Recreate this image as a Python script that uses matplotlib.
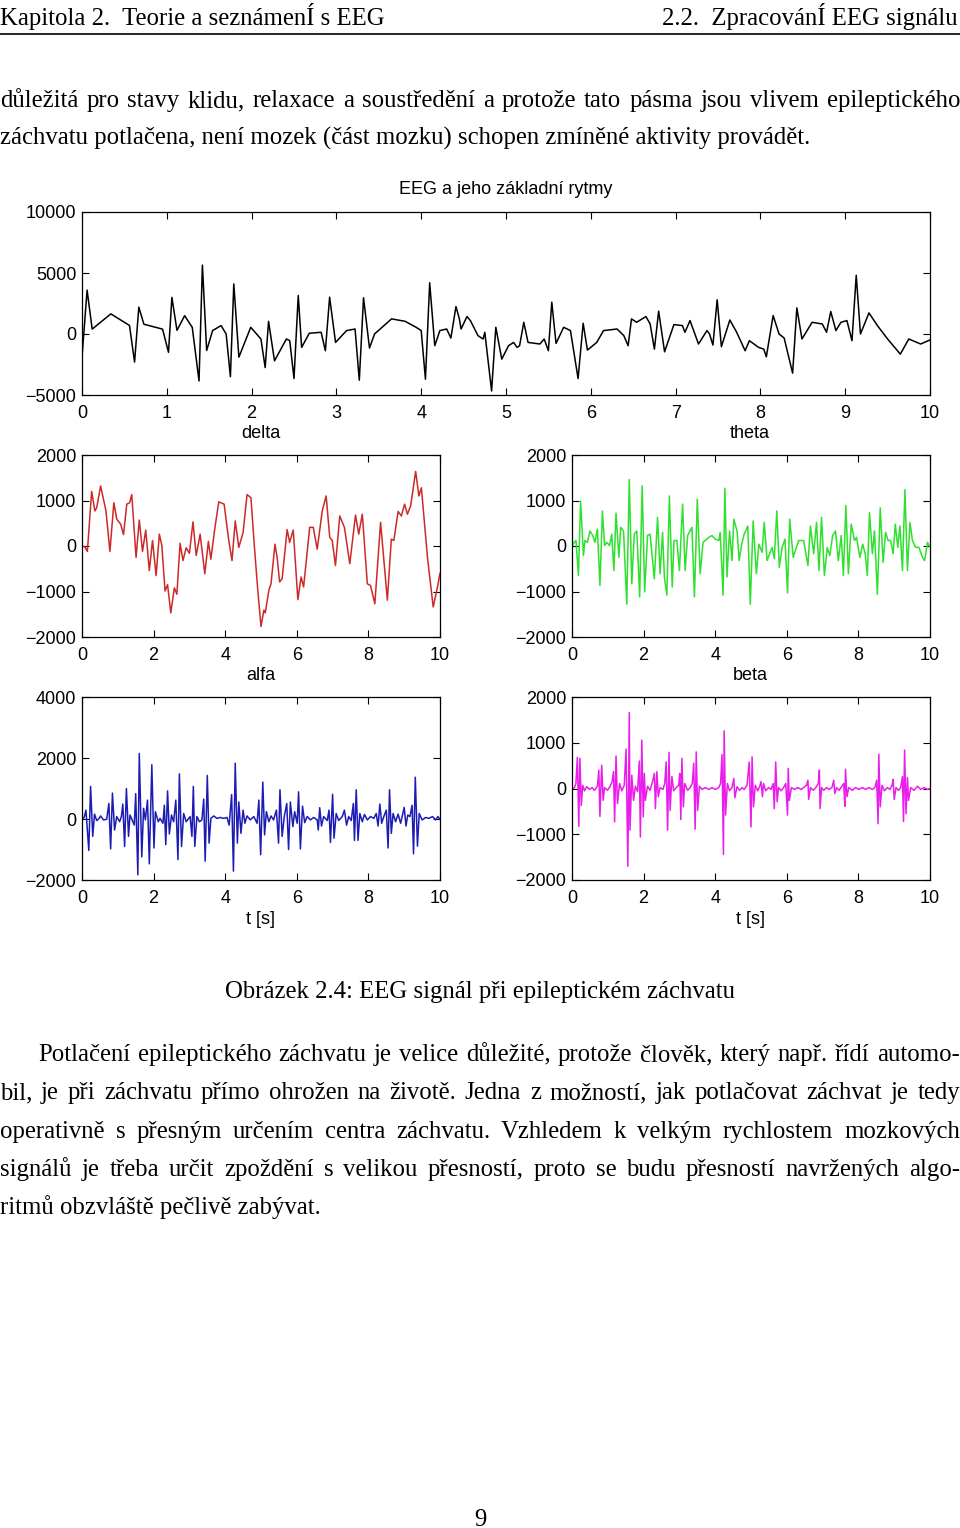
import matplotlib
matplotlib.use('Agg')
import matplotlib.pyplot as plt
from matplotlib.lines import Line2D

# ---------------- data ----------------
main_t = [0.00,0.06,0.12,0.34,0.56,0.62,0.67,0.73,0.95,1.02,
          1.06,1.12,1.21,1.30,1.38,1.42,1.47,1.54,1.64,1.70,
          1.75,1.79,1.85,1.99,2.11,2.16,2.20,2.27,2.41,2.45,
          2.50,2.55,2.59,2.68,2.82,2.87,2.92,2.99,3.12,3.22,
          3.27,3.32,3.39,3.45,3.65,3.81,3.94,4.00,4.05,4.10,
          4.16,4.22,4.30,4.35,4.41,4.45,4.47,4.54,4.58,4.67,
          4.73,4.75,4.83,4.88,4.95,5.03,
          5.09,5.13,5.16,5.21,5.26,5.40,5.45,5.50,5.54,5.59,
          5.68,5.76,5.85,5.91,5.96,6.07,6.15,6.31,6.39,6.44,
          6.48,6.54,6.65,6.70,6.75,6.80,6.87,6.98,7.08,7.11,
          7.17,7.27,7.37,7.40,7.44,7.49,7.54,7.64,7.72,7.82,
          7.87,7.98,8.04,8.07,8.15,8.22,8.28,8.38,8.43,8.49,
          8.61,8.73,8.78,8.83,8.89,8.95,9.02,9.08,9.13,9.18,
          9.28,9.38,9.50,9.65,9.75,9.89,10.00]
main_v = [-1900,3600,400,1650,700,-2300,2200,800,400,-1500,
          3000,300,1500,550,-3850,5650,-1350,280,690,0,
          -3500,4100,-1900,550,-410,-2750,1040,-2200,-410,-550,
          -3650,3160,-1100,60,140,-1370,3020,-690,280,410,
          -3790,2970,-1150,0,1240,1040,550,280,-3710,4200,
          -960,280,410,-330,2250,1240,410,1430,1100,-140,
          -410,140,-4670,550,-2060,-960,
          -690,-1100,-960,960,-690,-820,-410,-1370,2610,-770,
          550,280,-3650,880,-1320,-690,280,410,-140,-960,
          1240,960,1430,820,-1240,1870,-1460,770,690,140,
          1100,-820,280,0,-910,2800,-1040,1150,140,-1370,
          -550,-1100,-1240,-1870,1510,0,-330,-3210,2140,-410,
          960,820,140,1840,280,960,1100,-550,4810,0,
          1730,690,-410,-1650,-410,-820,-490]

delta_t = [0.00,0.08,0.15,0.27,0.36,0.41,0.52,0.67,0.78,0.89,
           0.97,1.08,1.16,1.25,1.33,1.39,1.51,1.60,1.69,1.78,
           1.88,1.97,2.07,2.16,2.23,2.32,2.39,2.48,2.58,2.65,
           2.74,2.82,2.91,3.00,3.10,3.19,3.30,3.43,3.53,3.60,
           3.70,3.82,3.97,4.10,4.19,4.28,4.38,4.50,4.61,4.72,
           4.81,4.91,5.00,5.08,5.12,5.22,5.28,5.39,5.45,5.52,
           5.59,5.73,5.80,5.90,6.03,6.12,6.19,6.36,6.46,6.57,
           6.71,6.82,6.92,6.99,7.08,7.20,7.33,7.48,7.64,7.73,
           7.83,7.97,8.06,8.18,8.34,8.53,8.64,8.71,8.83,8.92,
           9.01,9.09,9.18,9.32,9.41,9.48,9.65,9.81,9.93,10.00]
delta_v = [0,-20,-120,1200,770,840,1320,770,-120,950,
           590,480,250,920,950,1130,-250,570,-120,350,
           -540,120,-650,260,10,-990,-850,-1470,-920,-1060,
           60,-320,-40,-160,530,-210,260,-610,100,-290,
           330,970,920,120,-320,550,-30,300,1130,1060,
           40,-970,-1770,-1410,-1470,-970,-830,40,-250,-790,
           -720,360,80,350,-1180,-680,-900,410,410,-70,
           770,1100,190,120,-430,660,410,-390,680,260,
           700,-830,-870,-1270,520,-1190,150,120,760,660,
           920,700,880,1640,1100,1280,-250,-1340,-900,-600]

theta_t = [0.00,0.06,0.11,0.18,0.24,0.32,0.36,0.43,0.50,0.58,
           0.64,0.71,0.78,0.85,0.91,0.97,1.05,1.11,1.17,1.23,
           1.31,1.36,1.44,1.53,1.60,1.67,1.74,1.81,1.89,1.96,
           2.03,2.11,2.18,2.30,2.39,2.46,2.53,2.58,2.65,2.72,
           2.80,2.85,2.93,3.00,3.09,3.16,3.23,3.35,3.42,3.50,
           3.58,3.66,3.72,3.82,3.91,4.00,4.10,4.14,4.22,4.27,
           4.33,4.40,4.47,4.52,4.61,4.67,4.74,4.81,4.91,4.98,
           5.06,5.15,5.22,5.31,5.37,5.45,5.52,5.59,5.65,5.72,
           5.79,5.87,5.95,6.02,6.08,6.18,6.25,6.33,6.47,6.59,
           6.66,6.75,6.83,6.90,6.97,7.05,7.13,7.20,7.28,7.36,
           7.44,7.52,7.58,7.65,7.72,7.80,7.89,7.95,8.04,8.12,
           8.19,8.25,8.31,8.39,8.45,8.53,8.61,8.69,8.76,8.83,
           8.90,8.97,9.03,9.10,9.16,9.23,9.30,9.37,9.44,9.51,
           9.60,9.69,9.79,9.85,9.93,10.00]
theta_v = [0,80,120,-650,990,-210,120,80,330,230,
           80,370,-870,770,10,80,10,260,-540,720,
           -250,410,330,-1280,1460,-830,260,330,-1120,1320,
           -1010,230,260,-720,630,-610,300,-680,-1080,1100,
           -900,120,120,-540,920,-540,230,410,-1120,1030,
           -610,80,120,190,230,150,120,300,-1080,1270,
           -680,330,-320,590,330,-320,40,260,440,-1280,
           550,-610,40,-140,520,-320,-170,-30,-280,770,
           -470,-30,150,-1030,590,-250,-70,120,120,-430,
           440,-170,520,-540,630,-650,-30,-210,230,330,
           -320,230,-650,890,-610,480,120,190,-250,40,
           -170,-650,730,-170,330,-1060,840,-360,300,120,
           120,-170,480,-30,440,-540,1240,-540,520,120,
           -30,-30,-250,-320,80,-30]

alfa_t = [0.00,0.06,0.11,0.19,0.24,0.30,0.35,0.41,0.48,0.52,
          0.60,0.69,0.75,0.80,0.85,0.91,0.97,1.05,1.10,1.14,
          1.19,1.24,1.30,1.34,1.40,1.46,1.50,1.56,1.60,1.67,
          1.72,1.77,1.83,1.88,1.95,2.01,2.05,2.13,2.18,2.26,
          2.30,2.34,2.39,2.44,2.50,2.56,2.62,2.68,2.72,2.78,
          2.84,2.91,2.98,3.02,3.07,3.11,3.15,3.21,3.28,3.35,
          3.40,3.44,3.50,3.55,3.60,3.68,3.77,3.86,3.96,4.05,
          4.11,4.18,4.23,4.28,4.34,4.38,4.44,4.50,4.55,4.61,
          4.70,4.80,4.89,4.94,4.99,5.05,5.10,5.15,5.22,5.28,
          5.35,5.43,5.49,5.53,5.59,5.65,5.72,5.77,5.82,5.89,
          5.94,6.01,6.05,6.10,6.16,6.22,6.29,6.38,6.47,6.57,
          6.60,6.64,6.69,6.75,6.85,6.90,6.94,7.00,7.04,7.10,
          7.17,7.27,7.33,7.39,7.45,7.52,7.58,7.61,7.66,7.71,
          7.76,7.83,7.89,7.97,8.06,8.15,8.22,8.27,8.32,8.37,
          8.43,8.50,8.55,8.59,8.64,8.69,8.76,8.83,8.90,8.96,
          9.00,9.05,9.10,9.16,9.22,9.26,9.31,9.37,9.42,9.50,
          9.60,9.69,9.79,9.88,9.94,10.00]
alfa_v = [0,50,290,-1030,1070,-570,160,-50,20,100,
          -30,-10,510,-980,850,-360,80,-90,80,490,
          -900,1000,-570,130,-30,-200,830,-1830,2150,-1240,
          350,-30,620,-1470,1780,-950,240,-90,20,-140,
          450,-840,920,-490,130,-90,620,-1330,1480,-900,
          180,-90,20,80,-570,1070,-900,80,-90,-30,
          650,-1380,1430,-790,20,100,20,50,20,50,
          -200,800,-1710,1830,-790,560,-470,290,-140,100,
          -30,80,-140,620,-1170,1210,-520,240,-90,100,
          -30,290,-790,960,-570,80,510,-1000,560,-250,
          240,-140,890,-980,420,-120,80,-30,50,-30,
          -360,370,-230,80,-50,290,-770,810,-630,180,
          -50,80,290,-200,80,-50,510,-700,960,-700,
          180,-90,150,-30,80,20,180,-230,490,-140,
          80,290,-950,960,-470,180,-90,160,-140,180,
          380,-230,130,80,450,-1140,1370,-890,180,-30,
          50,20,80,-30,80,-10]

beta_t = [0.00,0.07,0.11,0.15,0.19,0.22,0.26,0.30,0.35,0.41,
          0.49,0.56,0.63,0.71,0.75,0.78,0.83,0.87,0.91,0.99,
          1.06,1.12,1.16,1.19,1.23,1.27,1.33,1.39,1.46,1.51,
          1.56,1.60,1.62,1.67,1.72,1.77,1.83,1.88,1.91,1.95,
          1.99,2.02,2.05,2.11,2.18,2.25,2.30,2.33,2.37,2.41,
          2.46,2.54,2.59,2.63,2.67,2.71,2.74,2.79,2.84,2.91,
          2.98,3.01,3.04,3.07,3.11,3.15,3.23,3.30,3.36,3.40,
          3.44,3.47,3.51,3.56,3.63,3.72,3.82,3.91,4.00,4.10,
          4.15,4.19,4.23,4.25,4.29,4.34,4.40,4.47,4.52,4.55,
          4.61,4.68,4.75,4.81,4.89,4.95,5.00,5.03,5.07,5.12,
          5.19,5.24,5.28,5.32,5.35,5.41,5.49,5.56,5.62,5.65,
          5.69,5.73,5.77,5.84,5.91,5.97,6.02,6.04,6.07,6.13,
          6.21,6.31,6.40,6.47,6.55,6.59,6.61,6.66,6.74,6.81,
          6.88,6.91,6.93,6.97,7.03,7.11,7.18,7.26,7.31,7.34,
          7.39,7.46,7.54,7.59,7.62,7.64,7.68,7.73,7.83,7.92,
          8.01,8.11,8.20,8.29,8.39,8.46,8.51,8.55,8.57,8.61,
          8.66,8.73,8.81,8.88,8.94,8.97,9.00,9.05,9.12,9.18,
          9.23,9.26,9.29,9.33,9.37,9.40,9.46,9.55,9.65,9.74,
          9.83,9.93,10.00]
beta_v = [0,20,110,680,-830,660,-370,70,-50,40,
          -20,20,-40,50,400,-610,510,-260,20,-40,
          40,150,370,-730,710,-330,110,-50,70,860,
          -1700,1660,-910,290,-260,50,-70,600,-1060,1060,
          -620,330,-260,50,-40,150,330,-440,370,-180,
          20,-20,110,580,-910,790,-480,260,-50,20,
          70,330,-680,660,-400,110,-40,20,110,550,
          -890,800,-480,50,-20,20,-20,20,-20,20,
          110,740,-1440,1260,-580,110,-50,20,220,-200,
          40,-40,20,-20,70,580,-840,690,-400,70,
          -50,40,150,-180,110,-50,20,-20,110,-440,
          580,-290,20,-50,20,110,-580,440,-260,20,
          -20,20,-20,20,70,180,-240,20,-40,20,
          110,400,-440,20,-40,20,-20,20,180,-110,
          20,-40,50,110,-390,420,-180,20,-40,20,
          -20,20,-20,20,-20,20,180,-770,750,-400,
          70,-50,20,-20,70,200,-240,20,-40,20,
          260,-720,840,-550,240,-260,20,-40,50,-20,
          20,-20,0]

main_xticks = [0, 1, 2, 3, 4, 5, 6, 7, 8, 9, 10]
sub_xticks = [0, 2, 4, 6, 8, 10]
main_yticks = [-5000, 0, 5000, 10000]
small_yticks = [-2000, -1000, 0, 1000, 2000]
alfa_yticks = [-2000, 0, 2000, 4000]

fig_title = 'EEG a jeho základní rytmy'
panel_titles = ['delta', 'theta', 'alfa', 'beta']
xlabel = 't [s]'

header_left = 'Kapitola 2.  Teorie a seznámenÍ s EEG'
header_right = '2.2.  ZpracovánÍ EEG signálu'
para1 = ['důležitá pro stavy klidu, relaxace a soustředění a protože tato pásma jsou vlivem epileptického',
         'záchvatu potlačena, není mozek (část mozku) schopen zmíněné aktivity provádět.']
caption = 'Obrázek 2.4: EEG signál při epileptickém záchvatu'
para2 = ['Potlačení epileptického záchvatu je velice důležité, protože člověk, který např. řídí automo-',
         'bil, je při záchvatu přímo ohrožen na životě. Jedna z možností, jak potlačovat záchvat je tedy',
         'operativně s přesným určením centra záchvatu. Vzhledem k velkým rychlostem mozkových',
         'signálů je třeba určit zpoždění s velikou přesností, proto se budu přesností navržených algo-',
         'ritmů obzvláště pečlivě zabývat.']
page_no = '9'

# ---------------- layout ----------------
W, H = 960, 1528
SERIF = 'Liberation Serif'
SANS = 'Liberation Sans'
plt.rcParams['font.family'] = [SANS, 'DejaVu Sans']
plt.rcParams['axes.unicode_minus'] = True

fig = plt.figure(figsize=(W / 100, H / 100), dpi=100)
renderer = fig.canvas.get_renderer()


def fx(x):
    return x / W


def fy(y):
    return 1 - y / H


def text_w(s, size):
    t = fig.text(0.3, 0.5, s, fontsize=size, family=SERIF)
    w = t.get_window_extent(renderer).width
    t.remove()
    return w


# justified lines: (text, baseline y, x start, x end)
just_lines = [(para1[0], 107, 0, 960),
              (para2[0], 1061, 38, 960),
              (para2[1], 1099, 0, 960),
              (para2[2], 1138, 0, 960),
              (para2[3], 1176, 0, 960)]

fit_sizes = [18 * 528 / text_w(caption, 18)]
for s, y, x0, x1 in just_lines:
    fit_sizes.append(18 * (x1 - x0) * 0.985 / text_w(s, 18))
FS = round(min(fit_sizes), 2)


def serif_text(s, x, y, ha='left'):
    fig.text(fx(x), fy(y), s, fontsize=FS, family=SERIF, ha=ha, va='baseline')


def justified(s, y, x0, x1):
    words = s.split()
    full = text_w(s, FS)
    extra = (x1 - x0 - full) / (len(words) - 1)
    for i, w in enumerate(words):
        right = text_w(' '.join(words[:i + 1]), FS)
        start = right - text_w(w, FS)
        serif_text(w, x0 + start + i * extra, y)


# header
serif_text(header_left, 0, 25)
serif_text(header_right, 958, 25, ha='right')
fig.add_artist(Line2D([0, 1], [fy(34), fy(34)], transform=fig.transFigure,
                      color='black', lw=1.2))

# paragraphs
for s, y, x0, x1 in just_lines:
    justified(s, y, x0, x1)
serif_text(para1[1], 0, 145)
serif_text(para2[4], 0, 1214)

# caption
serif_text(caption, 480, 998, ha='center')

serif_text(page_no, 480, 1526, ha='center')

# ---------------- axes ----------------
TFS = 13


def make_ax(l, t, r, b, xticks, yticks, ylim):
    ax = fig.add_axes([fx(l), fy(b), (r - l) / W, (b - t) / H])
    ax.set_xlim(0, 10)
    ax.set_ylim(*ylim)
    ax.set_xticks(xticks)
    ax.set_yticks(yticks)
    ax.tick_params(direction='in', top=True, right=True, length=5, width=0.8,
                   labelsize=TFS, colors='black')
    ax.tick_params(axis='x', pad=7)
    ax.tick_params(axis='y', pad=4)
    for sp in ax.spines.values():
        sp.set_linewidth(0.9)
    return ax


ax0 = make_ax(82, 212, 930, 395, main_xticks, main_yticks, (-5000, 10000))
ax0.plot(main_t, main_v, color='black', lw=1.1)
fig.text(fx(506), fy(190), fig_title, fontsize=TFS, ha='center', va='center')

ax1 = make_ax(82, 455, 440, 637, sub_xticks, small_yticks, (-2000, 2000))
ax1.plot(delta_t, delta_v, color='#cc2a2a', lw=1.1)
ax2 = make_ax(572, 455, 930, 637, sub_xticks, small_yticks, (-2000, 2000))
ax2.plot(theta_t, theta_v, color='#2fe02f', lw=1.1)
ax3 = make_ax(82, 697, 440, 880, sub_xticks, alfa_yticks, (-2000, 4000))
ax3.plot(alfa_t, alfa_v, color='#1c1cb4', lw=1.1)
ax4 = make_ax(572, 697, 930, 880, sub_xticks, small_yticks, (-2000, 2000))
ax4.plot(beta_t, beta_v, color='#ea1eea', lw=1.1)

for (x, y), s in zip([(261, 433), (750, 433), (261, 675), (750, 675)], panel_titles):
    fig.text(fx(x), fy(y), s, fontsize=TFS, ha='center', va='center')
for x in (261, 750):
    fig.text(fx(x), fy(919), xlabel, fontsize=TFS, ha='center', va='center')

fig.savefig('out.png', dpi=100)
